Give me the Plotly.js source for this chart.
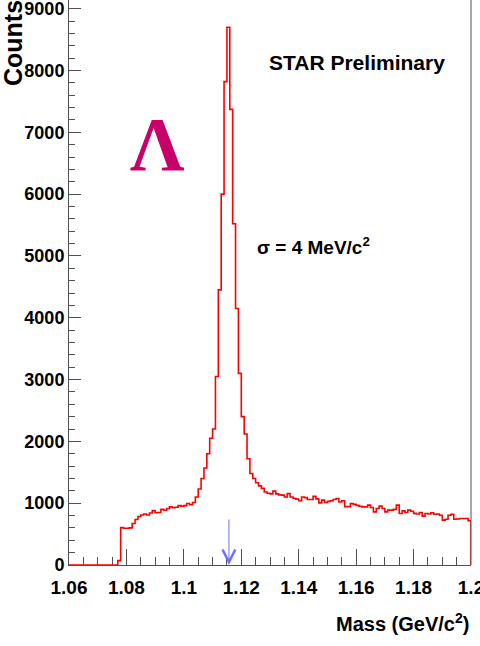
<!DOCTYPE html>
<html>
<head>
<meta charset="utf-8">
<script src="https://cdn.plot.ly/plotly-3.0.1.min.js"></script>
<style>html,body{margin:0;padding:0;background:#fff;}#chart{width:480px;height:646px;}</style>
</head>
<body>
<div id="chart"></div>
<script>
// Histogram definition: 140 bins of 1 MeV from 1.06 to 1.20 GeV/c^2
const massStart = 1.06;
const binWidth = 0.001;
const counts = [
  0,0,0,0,0,0,0,0,0,0,0,0,0,0,0,0,0,
  70,
  605,595,595,600,
  672,735,785,810,825,810,840,880,845,850,
  900,885,915,940,925,935,960,950,960,995,
  975,1010,1100,1230,1400,1570,1800,2050,2200,3050,
  4450,6000,7820,8700,7370,5520,4150,3100,2400,2120,
  1720,1480,1400,1330,1280,1240,1180,1160,1150,1195,
  1150,1135,1130,1100,1155,1100,1080,1065,1040,1100,
  1090,1060,1060,1110,1070,1005,1050,1010,1030,1040,
  1060,1075,1020,1040,945,945,995,980,965,950,
  941,941,968,930,860,914,952,914,860,887,
  887,900,968,833,875,850,887,870,835,825,
  850,790,833,825,845,820,825,806,726,740,
  806,820,740,745,753,753,753,717
];
const lambdaMass = 1.1157;
const xTickVals = [1.06, 1.08, 1.10, 1.12, 1.14, 1.16, 1.18, 1.20];
const yTickVals = [0, 1000, 2000, 3000, 4000, 5000, 6000, 7000, 8000, 9000];

// Build step outline from bin edges
const xs = [], ys = [];
for (let i = 0; i < counts.length; i++) {
  xs.push(+(massStart + i * binWidth).toFixed(4));
  ys.push(counts[i]);
}
const massEnd = +(massStart + counts.length * binWidth).toFixed(4);
xs.push(massEnd); ys.push(counts[counts.length - 1]);
xs.push(massEnd); ys.push(0);

const sans = "'Liberation Sans', Arial, Helvetica, sans-serif";
const axisCol = '#505050';

const trace = {
  x: xs, y: ys, type: 'scatter', mode: 'lines',
  line: {shape: 'hv', color: '#ff0000', width: 1.6},
  hoverinfo: 'skip', showlegend: false
};

const layout = {
  width: 480, height: 646,
  margin: {l: 69, r: 9, t: 0, b: 81},
  paper_bgcolor: '#ffffff', plot_bgcolor: '#ffffff',
  showlegend: false,
  xaxis: {
    range: [massStart, massEnd],
    tickvals: xTickVals, ticktext: xTickVals.map(v => String(+v.toFixed(2))),
    ticks: 'inside', ticklen: 16, tickwidth: 1, tickcolor: axisCol,
    minor: {dtick: 0.005, tick0: 1.06, ticks: 'inside', ticklen: 8, tickcolor: axisCol, showgrid: false},
    showline: true, linecolor: axisCol, linewidth: 1,
    showgrid: false, zeroline: false,
    ticklabeloverflow: 'allow', ticklabelstandoff: 5,
    tickfont: {family: sans, size: 19, color: '#000', weight: 'bold'},
    layer: 'below traces'
  },
  yaxis: {
    range: [0, 9140],
    tickvals: yTickVals, ticktext: yTickVals.map(String),
    ticks: 'inside', ticklen: 12, tickwidth: 1, tickcolor: axisCol,
    minor: {dtick: 200, tick0: 0, ticks: 'inside', ticklen: 6, tickcolor: axisCol, showgrid: false},
    showline: true, linecolor: axisCol, linewidth: 1,
    showgrid: false, zeroline: false,
    ticklabeloverflow: 'allow',
    tickfont: {family: sans, size: 18, color: '#000', weight: 'bold'},
    layer: 'below traces'
  },
  shapes: [
    {type: 'line', xref: 'paper', yref: 'paper', x0: 1, x1: 1, y0: 0, y1: 1,
     line: {color: axisCol, width: 1}}
  ],
  annotations: [
    {xref: 'paper', yref: 'paper', x: 0.716, y: 0.890, xanchor: 'center', yanchor: 'middle',
     text: 'STAR Preliminary', showarrow: false,
     font: {family: sans, size: 21, color: '#000', weight: 'bold'}},
    {xref: 'paper', yref: 'paper', x: 0.463, y: 0.564, xanchor: 'left', yanchor: 'middle',
     text: 'σ = 4 MeV/c<sup>2</sup>', showarrow: false,
     font: {family: sans, size: 19, color: '#000', weight: 'bold'}},
    {xref: 'paper', yref: 'paper', x: 0.221, y: 0.745, xanchor: 'center', yanchor: 'middle',
     text: 'Λ', showarrow: false,
     font: {family: "'Liberation Serif', 'Times New Roman', serif", size: 76, color: '#c8006a', weight: 'bold'}},
    {xref: 'paper', yref: 'paper', x: 1.0, y: -0.101, xanchor: 'right', yanchor: 'middle',
     text: 'Mass (GeV/c<sup>2</sup>)', showarrow: false,
     font: {family: sans, size: 20, color: '#000', weight: 'bold'}},
    {xref: 'paper', yref: 'paper', x: -0.139, y: 0.924, xanchor: 'center', yanchor: 'middle',
     text: 'Counts', textangle: -90, showarrow: false,
     font: {family: sans, size: 25, color: '#000', weight: 'bold'}},
    {xref: 'x', yref: 'y', x: lambdaMass, y: 0, ax: 0, ay: -47, text: '', showarrow: true,
     arrowhead: 5, arrowsize: 2.5, arrowwidth: 1, arrowcolor: '#7070ff'}
  ]
};

Plotly.newPlot('chart', [trace], layout, {staticPlot: true, displayModeBar: false});
</script>
</body>
</html>
